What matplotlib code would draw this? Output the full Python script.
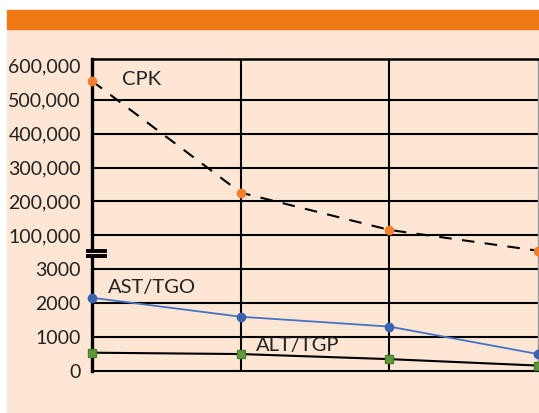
import matplotlib.pyplot as plt
import numpy as np
from matplotlib.patches import Rectangle

# data
x = [0, 1, 2, 3]
cpk = [555000, 226000, 116000, 56000]
ast = [2160, 1600, 1310, 500]
alt = [540, 500, 350, 160]

yticks = [0, 1000, 2000, 3000, 100000, 200000, 300000, 400000, 500000, 600000]
ylabels = ["0", "1000", "2000", "3000", "100,000", "200,000", "300,000",
           "400,000", "500,000", "600,000"]

cream = "#FDE6D4"
orange = "#EF7A15"


# broken y axis: 0-3000 linear, 3000-100000 squeezed into one step, then per 100,000
def fwd(v):
    v = np.asarray(v, dtype=float)
    return np.where(v <= 3000, v / 1000,
                    np.where(v < 100000, 3 + (v - 3000) / 97000, 3 + v / 100000))


def inv(p):
    p = np.asarray(p, dtype=float)
    return np.where(p <= 3, p * 1000,
                    np.where(p < 4, 3000 + (p - 3) * 97000, (p - 3) * 100000))


plt.rcParams['font.family'] = ['Lato', 'DejaVu Sans']

fig = plt.figure(figsize=(5.39, 4.13), dpi=100)
fig.patch.set_facecolor("white")
fig.patches.append(Rectangle((7 / 539, 1 / 413), 1, (412 - 29) / 413,
                             transform=fig.transFigure, color=cream, zorder=-2))
fig.patches.append(Rectangle((7 / 539, (413 - 29) / 413), 1, 19 / 413,
                             transform=fig.transFigure, color=orange, zorder=-2))

ax = fig.add_axes([92 / 539, 42 / 413, 446 / 539, 312 / 413])
ax.set_facecolor(cream)
ax.set_yscale("function", functions=(fwd, inv))
ax.set_xlim(0, 3)
ax.set_ylim(0, 620000)

# grid
for v in yticks[1:-1]:
    ax.axhline(v, color="black", lw=1.5, zorder=1)
for xv in [1, 2]:
    ax.axvline(xv, color="black", lw=1.5, zorder=1)

ax.plot(x, cpk, color="black", lw=1.5, dashes=(6, 5), zorder=3)
ax.plot(x, cpk, "o", color="#F08030", ms=6, zorder=4, clip_on=False)
ax.plot(x, ast, color="#4472C4", lw=1.3, zorder=3)
ax.plot(x, ast, "o", color="#3A64B0", ms=6, zorder=4, clip_on=False)
ax.plot(x, alt, color="black", lw=1.5, zorder=3)
ax.plot(x, alt, "s", color="#5E9A3A", mec="#4A7F2C", ms=6, zorder=4, clip_on=False)

ax.text(0.2, 560000, "CPK", fontsize=14.5, color="#222222", va="center")
ax.text(0.11, 2450, "AST/TGO", fontsize=14.5, color="#222222", va="center")
ax.text(1.1, 740, "ALT/TGP", fontsize=14.5, color="#222222", va="center")

ax.set_yticks(yticks)
ax.set_yticklabels(ylabels)
ax.set_xticks([])
ax.tick_params(axis="y", length=0, pad=8, labelsize=14, labelcolor="#222222")

ax.spines["left"].set_linewidth(2.4)
ax.spines["top"].set_linewidth(1.8)
ax.spines["bottom"].set_linewidth(1.5)
ax.spines["right"].set_linewidth(1.0)
ax.spines["right"].set_color("#999999")

# axis break marker
ax.add_patch(Rectangle((-0.014, 0.368), 0.05, 0.018, transform=ax.transAxes,
                       color=cream, clip_on=False, zorder=5))
for yb in [0.385, 0.369]:
    ax.plot([-0.014, 0.034], [yb, yb], transform=ax.transAxes, color="black",
            lw=2.8, clip_on=False, zorder=6, solid_capstyle="butt")

fig.savefig("out.png", dpi=100, facecolor=fig.get_facecolor())
